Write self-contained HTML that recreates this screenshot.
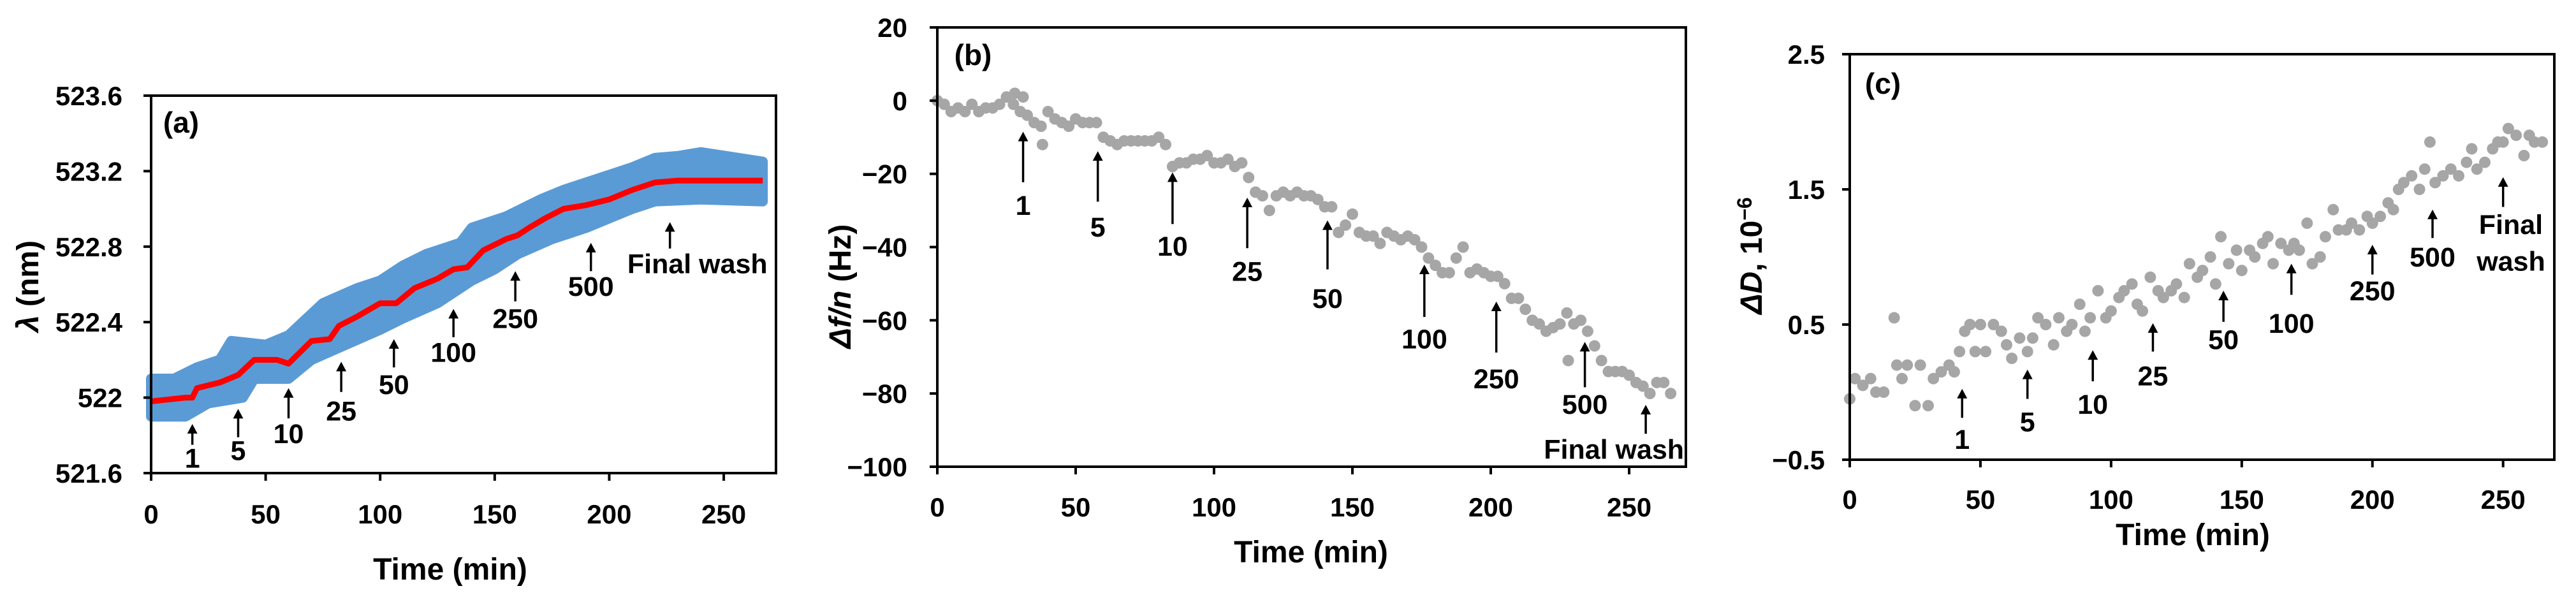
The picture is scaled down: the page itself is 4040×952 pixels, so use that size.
<!DOCTYPE html>
<html><head><meta charset="utf-8"><style>
html,body{margin:0;padding:0;background:#fff;}
svg{display:block;}
text{font-family:"Liberation Sans",sans-serif;font-weight:bold;fill:#000;}
</style></head><body>
<svg id="fig" width="4040" height="952" viewBox="0 0 4040 952" xmlns="http://www.w3.org/2000/svg"></svg>
<script>
// ---------- Panel (a) data ----------
const aRedT = [0,15,18,20,30,38,45,55,60,70,78,82,90,100,107,115,125,132,138,145,155,160,165,172,180,190,200,210,220,230,267];
const aRedV = [521.98,522.0,522.0,522.05,522.08,522.12,522.2,522.2,522.18,522.3,522.31,522.38,522.43,522.5,522.5,522.58,522.63,522.68,522.69,522.78,522.84,522.86,522.9,522.95,523.0,523.02,523.05,523.1,523.14,523.15,523.15];
const aUpT = [0,10,20,30,35,50,60,75,90,100,110,120,135,140,155,170,180,200,210,220,230,240,267];
const aUpV = [522.1,522.1,522.16,522.2,522.3,522.28,522.33,522.5,522.58,522.62,522.7,522.76,522.82,522.9,522.96,523.05,523.1,523.18,523.22,523.27,523.28,523.3,523.25];
const aLoT = [0,15,25,40,45,60,70,85,100,110,125,140,150,160,175,190,200,210,220,240,267];
const aLoV = [521.9,521.9,521.97,522.0,522.1,522.1,522.2,522.28,522.36,522.42,522.5,522.62,522.68,522.76,522.84,522.9,522.95,523.0,523.04,523.05,523.04];
const aArrT = [18,38,60,83,106,132,159,192,226.5];
const aArrTip = [521.86,521.94,522.05,522.19,522.31,522.47,522.67,522.82,522.93];
const aArrTail = [521.75,521.79,521.89,522.03,522.16,522.32,522.51,522.67,522.79];
const aArrLab = [521.68,521.72,521.81,521.93,522.07,522.24,522.42,522.59,522.71];
const aArrText = ["1","5","10","25","50","100","250","500","Final wash"];
const aYTicks = [521.6,522,522.4,522.8,523.2,523.6];
const aYTickLabels = ["521.6","522","522.4","522.8","523.2","523.6"];
const xTicks = [0,50,100,150,200,250];
const xTickLabels = ["0","50","100","150","200","250"];

// ---------- Panel (b) data ----------
const bT = [0,2.5,5,7.5,10,12.5,15,17.5,20,22.5,25,27.5,28,30,31,32.5,35,37.5,38,40,42.5,45,47.5,50,52.5,55,57.5,60,62.5,65,67.5,70,72.5,75,77.5,80,82.5,85,87.5,90,92.5,95,97.5,100,102.5,105,107.5,110,112.5,115,117.5,120,122.5,125,127.5,130,132.5,135,137.5,140,142.5,145,147.5,150,152.5,155,157.5,160,162.5,165,167.5,170,172.5,175,177.5,180,182.5,185,187.5,190,192.5,195,197.5,200,202.5,205,207.5,210,212.5,215,217.5,220,222.5,225,227.5,228,230,232.5,235,237.5,240,242.5,245,247.5,250,252.5,255,257.5,260,262.5,265];
const bV = [0,-1,-3,-2,-3,-1,-3,-2,-2,-1,1,-1,2,-3,1,-4,-6,-7,-12,-3,-5,-6,-7,-5,-6,-6,-6,-10,-11,-12,-11,-11,-11,-11,-11,-10,-12,-18,-17,-17,-16,-16,-15,-17,-17,-16,-18,-17,-21,-25,-26,-30,-26,-25,-26,-25,-26,-26,-27,-29,-29,-36,-34,-31,-36,-37,-37,-39,-36,-37,-38,-37,-38,-40,-43,-45,-47,-47,-43,-40,-47,-46,-47,-48,-48,-50,-54,-54,-57,-60,-61,-63,-62,-61,-58,-71,-61,-60,-63,-67,-71,-74,-74,-74,-75,-77,-78,-80,-77,-77,-80];
const bArrT = [31,58,85,112,141,176,202,234,256];
const bArrTip = [-8.5,-13.8,-19.6,-26.5,-32.7,-44.8,-54.9,-65.9,-83.1];
const bArrTail = [-22.3,-27.6,-33.7,-40.3,-46.1,-59.1,-68.8,-78.3,-91];
const bArrLab = [-28.6,-34.5,-39.7,-46.6,-54,-65.1,-76,-82.9,-95.2];
const bArrText = ["1","5","10","25","50","100","250","500","Final wash"];
const bYTicks = [-100,-80,-60,-40,-20,0,20];
const bYTickLabels = ["\u2212100","\u221280","\u221260","\u221240","\u221220","0","20"];

// ---------- Panel (c) data ----------
const cT = [0,2,5,8,10,13,17,18,20,22,25,27,30,32,35,38,40,42,44,46,48,50,52,55,58,60,62,65,68,70,72,75,78,80,83,85,88,90,92,95,98,100,103,105,108,110,112,115,118,120,123,125,128,130,133,135,138,140,142,145,148,150,153,155,158,160,162,165,168,170,172,175,177,180,182,185,187,190,192,195,198,200,203,206,208,210,212,215,218,220,222,224,227,230,233,236,238,240,243,246,248,250,252,255,258,260,262,265];
const cV = [-0.05,0.1,0.05,0.1,0.0,0.0,0.55,0.2,0.1,0.2,-0.1,0.2,-0.1,0.1,0.15,0.2,0.15,0.3,0.45,0.5,0.3,0.5,0.3,0.5,0.45,0.35,0.25,0.4,0.3,0.4,0.55,0.5,0.35,0.55,0.45,0.5,0.65,0.45,0.55,0.75,0.55,0.6,0.7,0.75,0.8,0.65,0.6,0.85,0.75,0.7,0.75,0.8,0.7,0.95,0.85,0.9,1.0,0.8,1.15,0.95,1.05,0.9,1.05,1.0,1.1,1.15,0.95,1.1,1.05,1.1,1.05,1.25,0.95,1.0,1.15,1.35,1.2,1.2,1.25,1.2,1.3,1.25,1.3,1.4,1.35,1.5,1.55,1.6,1.5,1.65,1.85,1.55,1.6,1.65,1.6,1.7,1.8,1.65,1.7,1.8,1.85,1.85,1.95,1.9,1.75,1.9,1.85,1.85];
const cArrT = [43,68,93,116,143,169,200,223,250];
const cArrTip = [0.024,0.167,0.31,0.51,0.75,0.95,1.09,1.35,1.59];
const cArrTail = [-0.19,-0.05,0.08,0.30,0.52,0.72,0.87,1.14,1.37];
const cArrLab = [-0.35,-0.22,-0.09,0.12,0.39,0.51,0.75,1.0,1.24];
const cArrText = ["1","5","10","25","50","100","250","500","Final"];
const cYTicks = [-0.5,0.5,1.5,2.5];
const cYTickLabels = ["\u22120.5","0.5","1.5","2.5"];

const NS = "http://www.w3.org/2000/svg";
const svg = document.getElementById('fig');
function mk(tag, attrs, parent){ const e=document.createElementNS(NS,tag); for(const k in attrs) e.setAttribute(k,attrs[k]); (parent||svg).appendChild(e); return e; }
const FS = 42;

function panel(cfg){
  const g = mk('g',{});
  
  
  const sx = t => cfg.L + (t - cfg.xmin)/(cfg.xmax - cfg.xmin)*(cfg.R - cfg.L);
  const sy = v => cfg.B - (v - cfg.ymin)/(cfg.ymax - cfg.ymin)*(cfg.B - cfg.T);
  cfg.draw(g, sx, sy);
  const fr = mk('rect',{x:cfg.L,y:cfg.T,width:cfg.R-cfg.L,height:cfg.B-cfg.T,fill:'none',stroke:'#000','stroke-width':4},g);
  
  
  cfg.yTicks.forEach((v,i)=>{
    const y = sy(v);
    const tk = mk('line',{x1:cfg.L-12,x2:cfg.L,y1:y,y2:y,stroke:'#000','stroke-width':4},g);
    
    
    const tl = mk('text',{x:cfg.ylabX,y:y+15,'text-anchor':'end','font-size':FS},g);
    tl.textContent = cfg.yTickLabels[i];
    
    
  });
  xTicks.forEach((v,i)=>{
    const x = sx(v);
    const tk = mk('line',{x1:x,x2:x,y1:cfg.B,y2:cfg.B+12,stroke:'#000','stroke-width':4},g);
    
    
    const tl = mk('text',{x:x,y:cfg.xlabY+15,'text-anchor':'middle','font-size':FS},g);
    tl.textContent = xTickLabels[i];
    
    
  });
  cfg.arrT.forEach((t,i)=>{
    const x = sx(t), yt = sy(cfg.arrTip[i]), yb = sy(cfg.arrTail[i]);
    const ln = mk('line',{x1:x,x2:x,y1:yt+12,y2:yb,stroke:'#000','stroke-width':3.5},g);
    
    
    const hd = mk('polygon',{points:`${x-8},${yt+15} ${x+8},${yt+15} ${x},${yt}`,fill:'#000'},g);
    
    
    const lx = (i===cfg.arrT.length-1 && cfg.finalX!==undefined) ? sx(cfg.finalX) : x;
    const lb = mk('text',{x:lx,y:sy(cfg.arrLab[i])+15,'text-anchor':'middle','font-size':43},g);
    lb.textContent = cfg.arrText[i];
    
    
  });
  if(cfg.extra) cfg.extra(g, sx, sy);
  const pl = mk('text',{x:cfg.pl[0],y:cfg.pl[1]+17,'text-anchor':'middle','font-size':46},g);
  pl.textContent = cfg.panelLabel;
  
  
  const xt = mk('text',{x:cfg.xt[0],y:cfg.xt[1]+17,'text-anchor':'middle','font-size':48},g);
  xt.textContent = 'Time (min)';
  
  
  const yt = mk('text',{x:0,y:0,'text-anchor':'middle','font-size':48,transform:`translate(${cfg.yt[0]+17},${cfg.yt[1]}) rotate(-90)`},g);
  yt.innerHTML = cfg.yTitle;
  
  
}

panel({name:'panel-a-chart',L:237,R:1217,T:150,B:742,xmin:0,xmax:272.8,ymin:521.6,ymax:523.6,
  yTicks:aYTicks,yTickLabels:aYTickLabels,ylabX:192,xlabY:806,
  arrT:aArrT,arrTip:aArrTip,arrTail:aArrTail,arrLab:aArrLab,arrText:aArrText,finalX:238.5,
  pl:[284,191],panelLabel:'(a)',xt:[706,892],yt:[43,449],
  yTitle:'<tspan font-style="italic">λ</tspan> (nm)',
  draw:(g,sx,sy)=>{
    let pts=[];
    aUpT.forEach((t,i)=>pts.push(sx(t)+','+sy(aUpV[i])));
    for(let i=aLoT.length-1;i>=0;i--) pts.push(sx(aLoT[i])+','+sy(aLoV[i]));
    const band = mk('polygon',{points:pts.join(' '),fill:'#5b9bd5',stroke:'#5b9bd5','stroke-width':16,'stroke-linejoin':'round'},g);
    
    
    const red = mk('polyline',{points:aRedT.map((t,i)=>sx(t)+','+sy(aRedV[i])).join(' '),fill:'none',stroke:'#ff0000','stroke-width':9,'stroke-linejoin':'round'},g);
    
    
  }
});

panel({name:'panel-b-chart',L:1470,R:2644,T:43,B:732,xmin:0,xmax:270.5,ymin:-100,ymax:20,
  yTicks:bYTicks,yTickLabels:bYTickLabels,ylabX:1423,xlabY:795,
  arrT:bArrT,arrTip:bArrTip,arrTail:bArrTail,arrLab:bArrLab,arrText:bArrText,finalX:244.5,
  pl:[1526,85],panelLabel:'(b)',xt:[2056,865],yt:[1317,449],
  yTitle:'<tspan font-style="italic">Δf/n</tspan> (Hz)',
  draw:(g,sx,sy)=>{
    bT.forEach((t,i)=>{
      const c = mk('circle',{cx:sx(t),cy:sy(bV[i]),r:9,fill:'#a6a6a6'},g);
      
      
    });
  }
});

panel({name:'panel-c-chart',L:2901,R:4006,T:85,B:721,xmin:0,xmax:269.6,ymin:-0.5,ymax:2.5,
  yTicks:cYTicks,yTickLabels:cYTickLabels,ylabX:2862,xlabY:783,
  arrT:cArrT,arrTip:cArrTip,arrTail:cArrTail,arrLab:cArrLab,arrText:cArrText,finalX:253,
  pl:[2953,130],panelLabel:'(c)',xt:[3439,838],yt:[2746,401],
  yTitle:'<tspan font-style="italic">ΔD</tspan>, 10<tspan dy="-16" font-size="32">−6</tspan>',
  draw:(g,sx,sy)=>{
    cT.forEach((t,i)=>{
      const c = mk('circle',{cx:sx(t),cy:sy(cV[i]),r:9,fill:'#a6a6a6'},g);
      
      
    });
  },
  extra:(g,sx,sy)=>{
    const w = mk('text',{x:sx(253),y:sy(0.97)+15,'text-anchor':'middle','font-size':43},g);
    w.textContent='wash';
    
    
  }
});
</script>
</body></html>
